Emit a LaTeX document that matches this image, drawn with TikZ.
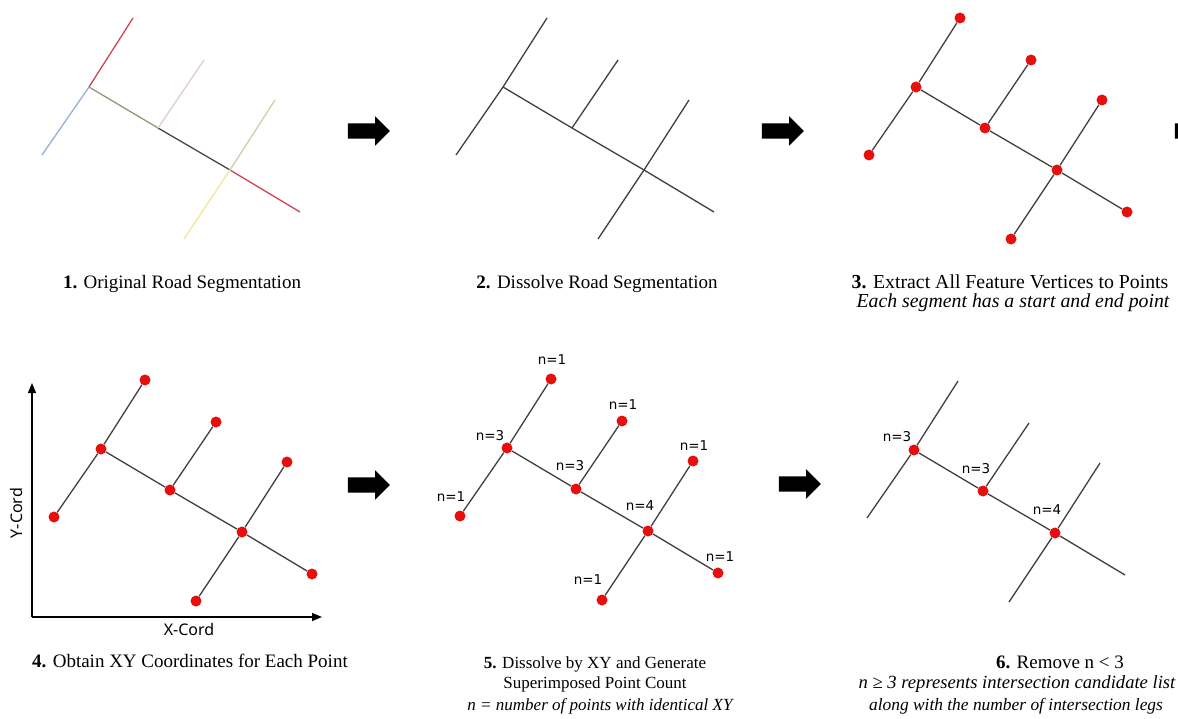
\documentclass[tikz,border=0pt]{standalone}
\usepackage{fontspec}
\setmainfont{Liberation Serif}
\newfontfamily\cntfont{DejaVu Sans}
\newfontfamily\axfont{Noto Sans}
\usetikzlibrary{arrows.meta, shapes.arrows, positioning}

\definecolor{roadgray}{RGB}{64,64,64}
\definecolor{ptred}{RGB}{232,14,14}
\definecolor{segred}{RGB}{205,70,85}
\definecolor{segblue}{RGB}{150,175,215}
\definecolor{segolive}{RGB}{150,150,120}
\definecolor{segdark}{RGB}{70,70,70}
\definecolor{segpink}{RGB}{225,205,200}
\definecolor{seggreen}{RGB}{205,210,165}
\definecolor{segyellow}{RGB}{240,230,160}

%% points of one road network, relative to its first junction
%% #1 prefix, #2 style of junctions, #3 style of end points
\newcommand{\netpoints}[3]{%
  \node[#2] (#1J)  at (0,0)     {};
  \node[#2] (#1M)  at (69,41)   {};
  \node[#2] (#1R)  at (141,83)  {};
  \node[#3] (#1T)  at (44,-69)  {};
  \node[#3] (#1B)  at (-47,68)  {};
  \node[#3] (#1MT) at (115,-27) {};
  \node[#3] (#1RT) at (186,13)  {};
  \node[#3] (#1RB) at (95,152)  {};
  \node[#3] (#1E)  at (211,125) {};
}
%% the dissolved roads between those points
\newcommand{\netroads}[1]{%
  \draw[road] (#1J) -- (#1T);
  \draw[road] (#1J) -- (#1B);
  \draw[road] (#1J) -- (#1M);
  \draw[road] (#1M) -- (#1R);
  \draw[road] (#1R) -- (#1E);
  \draw[road] (#1M) -- (#1MT);
  \draw[road] (#1R) -- (#1RT);
  \draw[road] (#1R) -- (#1RB);
}

\begin{document}
\begin{tikzpicture}[
    x=1pt, y=-1pt,
    road/.style = {line width=1.3pt, draw=roadgray},
    seg/.style = {line width=1.3pt},
    vtx/.style = {circle, fill=ptred, inner sep=0pt, minimum size=11pt},
    cnt/.style = {font=\cntfont\fontsize{13.5}{15}\selectfont, inner sep=0pt},
    axlbl/.style = {font=\axfont\fontsize{16}{18}\selectfont, inner sep=0pt},
    axis/.style = {line width=1.3pt, -{Triangle[length=10pt,width=8pt]}},
    captxt/.style = {font=\fontsize{19}{21}\selectfont, anchor=base, inner sep=0pt},
    capnote/.style = {font=\fontsize{19}{21}\selectfont\itshape, anchor=base, inner sep=0pt},
    smalltxt/.style = {font=\fontsize{17}{19}\selectfont, anchor=base, inner sep=0pt},
    bigarrow/.style = {
        single arrow, fill=black, inner sep=0pt,
        text height=7.5pt, text depth=7.5pt,
        minimum height=42pt, single arrow head extend=7pt
    }
]
\useasboundingbox[fill=white] (0,0) rectangle (1178,719);

%% 1. original segments
\begin{scope}[shift={(89,87)}]
\netpoints{a}{coordinate}{coordinate}
\draw[seg, segred]    (aJ) -- (aT);
\draw[seg, segblue]   (aJ) -- (aB);
\draw[seg, segolive]  (aJ) -- (aM);
\draw[seg, segdark]   (aM) -- (aR);
\draw[seg, segred]    (aR) -- (aE);
\draw[seg, segpink]   (aM) -- (aMT);
\draw[seg, seggreen]  (aR) -- (aRT);
\draw[seg, segyellow] (aR) -- (aRB);
\end{scope}

%% 2. dissolved
\begin{scope}[shift={(503,87)}]
\netpoints{b}{coordinate}{coordinate}
\netroads{b}
\end{scope}

%% 3. vertices
\begin{scope}[shift={(916,87)}]
\netpoints{c}{vtx}{vtx}
\netroads{c}
\end{scope}

%% 4. XY coordinates
\coordinate (org)  at (32,617);
\coordinate (ytip) at (32,383);
\coordinate (xtip) at (322,617);
\draw[axis] (org) -- (ytip);
\draw[axis] (org) -- (xtip);
\node[axlbl, rotate=90] (ylbl) at (16,513) {Y-Cord};
\node[axlbl] (xlbl) at (189,629) {X-Cord};
\begin{scope}[shift={(101,449)}]
\netpoints{d}{vtx}{vtx}
\netroads{d}
\end{scope}

%% 5. point counts
\begin{scope}[shift={(507,448)}]
\netpoints{e}{vtx}{vtx}
\netroads{e}
\node[cnt] (eTn)  at ([shift={(1,-19)}]eT)    {n=1};
\node[cnt] (eMTn) at ([shift={(1,-16)}]eMT)   {n=1};
\node[cnt] (eRTn) at ([shift={(1,-15)}]eRT)   {n=1};
\node[cnt] (eJn)  at ([shift={(-17,-12)}]eJ)  {n=3};
\node[cnt] (eMn)  at ([shift={(-6,-23)}]eM)   {n=3};
\node[cnt] (eRn)  at ([shift={(-8,-25)}]eR)   {n=4};
\node[cnt] (eBn)  at ([shift={(-9,-19)}]eB)   {n=1};
\node[cnt] (eEn)  at ([shift={(2,-16)}]eE)    {n=1};
\node[cnt] (eRBn) at ([shift={(-14,-20)}]eRB) {n=1};
\end{scope}

%% 6. intersections only
\begin{scope}[shift={(914,450)}]
\netpoints{f}{vtx}{coordinate}
\netroads{f}
\node[cnt] (fJn) at ([shift={(-17,-13)}]fJ) {n=3};
\node[cnt] (fMn) at ([shift={(-7,-22)}]fM)  {n=3};
\node[cnt] (fRn) at ([shift={(-8,-23)}]fR)  {n=4};
\end{scope}

%% step arrows
\node[bigarrow] (go1) at (365,131) {};
\node[bigarrow] (go2) at (779,131) {};
\node[bigarrow] (go3) at (365,485) {};
\node[bigarrow] (go4) at (796,484) {};
\begin{scope}
\clip (0,0) rectangle (1178,719);
\node[bigarrow] (go5) at (1192,131) {};
\end{scope}

%% captions
\node[captxt]  (cap1)  at (182,289)  {\textbf{1.} Original Road Segmentation};
\node[captxt]  (cap2)  at (597,289)  {\textbf{2.} Dissolve Road Segmentation};
\node[captxt, font=\fontsize{19.8}{21}\selectfont]  (cap3)  at (1010,289)
    {\textbf{3.} Extract All Feature Vertices to Points};
\node[capnote, font=\fontsize{19.8}{21}\selectfont\itshape] (note3) at (1013,308)
    {Each segment has a start and end point};
\node[captxt]  (cap4)  at (190,667)  {\textbf{4.} Obtain XY Coordinates for Each Point};
\node[smalltxt] (cap5)  at (595,668) {\textbf{5.} Dissolve by XY and Generate};
\node[smalltxt] (cap5b) at (595,688) {Superimposed Point Count};
\node[smalltxt, font=\fontsize{17}{19}\selectfont\itshape] (note5) at (600,710)
    {n = number of points with identical XY};
\node[captxt]  (cap6)  at (1060,668) {\textbf{6.} Remove n < 3};
\node[capnote, font=\fontsize{18.6}{21}\selectfont\itshape] (note6) at (1017,688)
    {n ≥ 3 represents intersection candidate list};
\node[capnote, font=\fontsize{17.4}{21}\selectfont\itshape] (note6b) at (1016,710)
    {along with the number of intersection legs};

\end{tikzpicture}
\end{document}
